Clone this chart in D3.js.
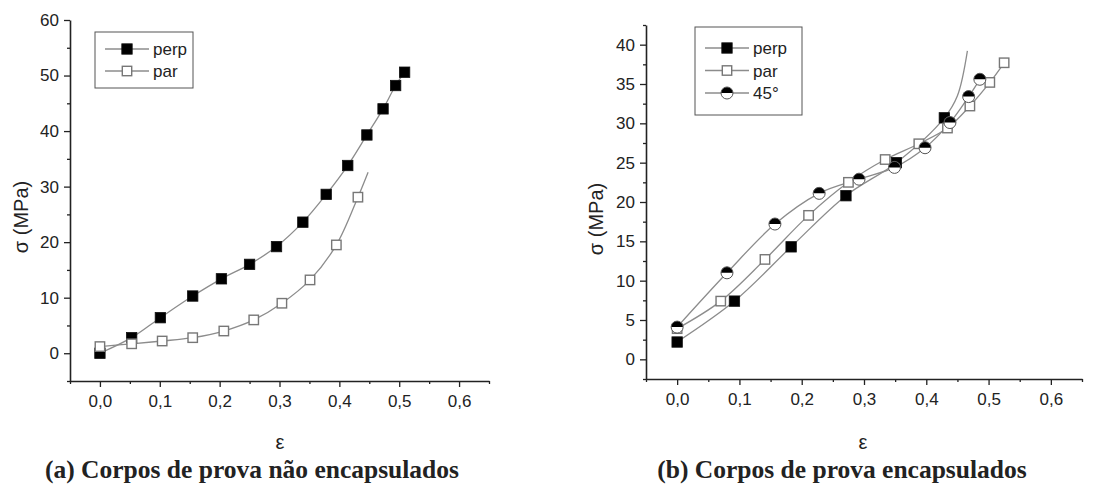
<!DOCTYPE html>
<html>
<head>
<meta charset="utf-8">
<script src="https://cdn.jsdelivr.net/npm/d3@7"></script>
<style>
  body { margin: 0; background: #fff; }
  svg { display: block; }
  text { font-family: "Liberation Sans", Arial, sans-serif; fill: #222; }
</style>
</head>
<body>
<div id="chart"></div>
<script>
// ---- data ----
const xTicks = [0, 0.1, 0.2, 0.3, 0.4, 0.5, 0.6];
const yTicksA = [0, 10, 20, 30, 40, 50, 60];
const yTicksB = [0, 5, 10, 15, 20, 25, 30, 35, 40];

// (a) non encapsulated
const perpA = [[0.000, 0.0], [0.053, 2.8], [0.101, 6.4], [0.155, 10.3], [0.203, 13.4], [0.250, 16.0],
  [0.295, 19.2], [0.339, 23.6], [0.378, 28.6], [0.414, 33.8], [0.446, 39.3], [0.473, 44.0],
  [0.494, 48.2], [0.509, 50.6]];
const parA = [[0.000, 1.2], [0.053, 1.7], [0.104, 2.2], [0.155, 2.8], [0.207, 4.0], [0.257, 6.0],
  [0.304, 9.0], [0.351, 13.2], [0.395, 19.5], [0.431, 28.1]];
const parAFitEnd = [[0.448, 32.6]];   // fitted curve runs past the last marker

// (b) encapsulated
const perpB = [[0.000, 2.2], [0.092, 7.4], [0.183, 14.3], [0.271, 20.8], [0.352, 25.0], [0.429, 30.7]];
const perpBFitEnd = [[0.450, 33.5], [0.466, 39.2]];
const parB = [[0.000, 3.9], [0.070, 7.4], [0.141, 12.7], [0.211, 18.3], [0.275, 22.5], [0.334, 25.4],
  [0.388, 27.4], [0.434, 29.4], [0.470, 32.2], [0.502, 35.2], [0.525, 37.7]];
const deg45B = [[0.000, 4.1], [0.080, 11.0], [0.157, 17.2], [0.228, 21.1], [0.292, 22.9], [0.349, 24.4],
  [0.398, 26.9], [0.438, 30.1], [0.468, 33.4], [0.486, 35.6]];

const legendA = ["perp", "par"];
const legendB = ["perp", "par", "45°"];
const captionA = "(a) Corpos de prova não encapsulados";
const captionB = "(b) Corpos de prova encapsulados";
const xLabel = "ε";
const yLabel = "σ (MPa)";

// ---- drawing ----
const W = 1115, H = 489;
const svg = d3.select("#chart").append("svg").attr("width", W).attr("height", H);

const lineColor = "#8c8c8c";
const fmt = d => d3.format(".1f")(d).replace(".", ",");

function marker(g, kind, cx, cy) {
  const h = 5.2;
  if (kind === "filled") {
    g.append("rect").attr("x", cx - h).attr("y", cy - h).attr("width", 2 * h).attr("height", 2 * h)
      .attr("fill", "#000").attr("stroke", "#111").attr("stroke-width", 0.8);
  } else if (kind === "open") {
    g.append("rect").attr("x", cx - h + 0.5).attr("y", cy - h + 0.5).attr("width", 2 * h - 1).attr("height", 2 * h - 1)
      .attr("fill", "#fff").attr("stroke", "#777").attr("stroke-width", 1.4);
  } else {
    const r = 6;
    g.append("circle").attr("cx", cx).attr("cy", cy).attr("r", r).attr("fill", "#fff");
    g.append("path")
      .attr("d", `M${cx - r},${cy} A${r},${r} 0 0 1 ${cx + r},${cy} Z`)
      .attr("fill", "#000");
    g.append("circle").attr("cx", cx).attr("cy", cy).attr("r", r)
      .attr("fill", "none").attr("stroke", "#555").attr("stroke-width", 1);
  }
}

function panel(cfg) {
  const x = d3.scaleLinear().domain([-0.05, 0.65]).range(cfg.xRange);
  const y = d3.scaleLinear().domain(cfg.yDomain).range(cfg.yRange);
  const g = svg.append("g");

  // axes (major + minor ticks)
  const bottom = cfg.yRange[0], left = cfg.xRange[0];
  const half = cfg.yStep / 2;
  const xMinor = d3.range(-0.05, 0.651, 0.05).filter(v => !xTicks.some(t => Math.abs(t - v) < 1e-6));
  const yMinor = d3.range(Math.ceil(cfg.yDomain[0] / half) * half, cfg.yDomain[1] + 1e-6, half)
    .filter(v => !cfg.yTicks.some(t => Math.abs(t - v) < 1e-6));

  g.append("g").attr("transform", `translate(0,${bottom})`)
    .call(d3.axisBottom(x).tickValues(xMinor).tickSize(3).tickSizeOuter(0).tickFormat(""))
    .call(a => a.select(".domain").remove());
  g.append("g").attr("transform", `translate(${left},0)`)
    .call(d3.axisLeft(y).tickValues(yMinor).tickSize(3).tickSizeOuter(0).tickFormat(""))
    .call(a => a.select(".domain").remove());

  const xa = g.append("g").attr("transform", `translate(0,${bottom})`)
    .call(d3.axisBottom(x).tickValues(xTicks).tickSize(6).tickSizeOuter(0).tickPadding(8).tickFormat(fmt));
  const ya = g.append("g").attr("transform", `translate(${left},0)`)
    .call(d3.axisLeft(y).tickValues(cfg.yTicks).tickSize(6).tickSizeOuter(0).tickPadding(5));
  [xa, ya].forEach(a => {
    a.selectAll("text").style("font-size", "17px").attr("fill", "#222")
      .style("font-family", '"Liberation Sans", Arial, sans-serif');
    a.select(".domain").attr("stroke", "#222").attr("stroke-width", 1.6);
  });
  g.selectAll(".tick line").attr("stroke", "#222").attr("stroke-width", 1.3);

  // curves
  const line = d3.line().x(d => x(d[0])).y(d => y(d[1])).curve(d3.curveCatmullRom.alpha(0.5));
  cfg.series.forEach(s => {
    g.append("path").attr("d", line(s.data.concat(s.fitEnd || [])))
      .attr("fill", "none").attr("stroke", lineColor).attr("stroke-width", 1.3);
  });
  cfg.series.forEach(s => {
    const mg = g.append("g");
    s.data.forEach(d => marker(mg, s.kind, x(d[0]), y(d[1])));
  });

  // legend
  const L = cfg.legend;
  g.append("rect").attr("x", L.x).attr("y", L.y).attr("width", L.w).attr("height", L.h)
    .attr("fill", "#fff").attr("stroke", "#555").attr("stroke-width", 1);
  cfg.series.forEach((s, i) => {
    const ly = L.y + L.first + i * L.step;
    g.append("line").attr("x1", L.x + 10).attr("x2", L.x + 54).attr("y1", ly).attr("y2", ly)
      .attr("stroke", lineColor).attr("stroke-width", 1.3);
    marker(g, s.kind, L.x + 32, ly);
    g.append("text").attr("x", L.x + 58).attr("y", ly + 6).style("font-size", "17px").text(s.label);
  });

  // axis labels + caption
  g.append("text").attr("x", cfg.xLabelX).attr("y", 449).attr("text-anchor", "middle")
    .style("font-size", "20px").text(xLabel);
  g.append("text").attr("transform", `translate(${cfg.yLabelX},${cfg.yLabelY}) rotate(-90)`)
    .attr("text-anchor", "middle").style("font-size", "20px").text(yLabel);
  g.append("text").attr("x", cfg.captionX).attr("y", 478).attr("text-anchor", "middle")
    .style("font-family", '"Liberation Serif", "Times New Roman", serif')
    .style("font-weight", "bold").style("font-size", "25.5px").attr("fill", "#000").text(cfg.caption);
}

panel({
  xRange: [70, 489], yDomain: [-5, 60], yRange: [381, 20], yTicks: yTicksA, yStep: 10,
  series: [
    { data: perpA, kind: "filled", label: legendA[0] },
    { data: parA, fitEnd: parAFitEnd, kind: "open", label: legendA[1] }
  ],
  legend: { x: 95, y: 32, w: 98, h: 56, first: 17, step: 22 },
  xLabelX: 280, yLabelX: 28, yLabelY: 217, captionX: 252, caption: captionA
});

panel({
  xRange: [646, 1082], yDomain: [-2.5, 42.5], yRange: [379, 25], yTicks: yTicksB, yStep: 5,
  series: [
    { data: perpB, fitEnd: perpBFitEnd, kind: "filled", label: legendB[0] },
    { data: parB, kind: "open", label: legendB[1] },
    { data: deg45B, kind: "half", label: legendB[2] }
  ],
  legend: { x: 695, y: 27, w: 107, h: 88, first: 21, step: 22.5 },
  xLabelX: 863, yLabelX: 603, yLabelY: 219, captionX: 842, caption: captionB
});
</script>
</body>
</html>
